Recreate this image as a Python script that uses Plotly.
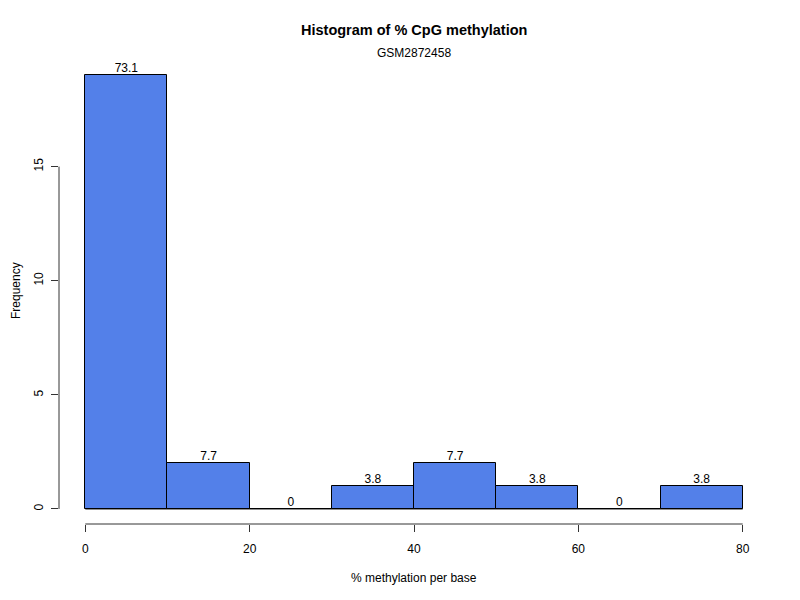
import plotly.graph_objects as go

# histogram bins (% methylation per base) and counts
bin_edges = [0, 10, 20, 30, 40, 50, 60, 70, 80]
counts = [19, 2, 0, 1, 2, 1, 0, 1]
y_ticks = [0, 5, 10, 15]
x_ticks = [0, 20, 40, 60, 80]

total = sum(counts)
centers = [(a + b) / 2 for a, b in zip(bin_edges[:-1], bin_edges[1:])]
pct_labels = [f"{round(100 * c / total, 1):g}" for c in counts]

FONT = "Liberation Sans, Arial, Helvetica, sans-serif"
BAR_COLOR = "#5380E9"

fig = go.Figure()
fig.add_trace(go.Bar(
    x=centers,
    y=counts,
    width=10,
    marker=dict(color=BAR_COLOR, line=dict(color="black", width=1)),
    hoverinfo="x+y",
))
# zero-height bins still show their border along the baseline
fig.add_trace(go.Scatter(
    x=[bin_edges[0], bin_edges[-1]],
    y=[0, 0],
    mode="lines",
    line=dict(color="black", width=1),
    hoverinfo="skip",
))
fig.add_trace(go.Scatter(
    x=centers,
    y=counts,
    mode="text",
    text=pct_labels,
    textposition="top center",
    textfont=dict(family=FONT, size=12, color="black"),
    hoverinfo="skip",
))

# axis lines only span the tick range, like base R
fig.add_shape(type="line", xref="paper", yref="y", x0=0, x1=0,
              y0=y_ticks[0], y1=y_ticks[-1], line=dict(color="#333", width=1))
fig.add_shape(type="line", xref="x", yref="paper", x0=x_ticks[0], x1=x_ticks[-1],
              y0=0, y1=0, line=dict(color="#333", width=1))

# page body adds an 8px offset, so margins are trimmed on left/top
fig.update_layout(
    width=800, height=600,
    paper_bgcolor="white", plot_bgcolor="white",
    showlegend=False,
    bargap=0,
    margin=dict(l=51, r=39, t=50, b=84),
    font=dict(family=FONT, size=12, color="black"),
    annotations=[
        dict(text="<b>Histogram of % CpG methylation</b>", xref="paper", yref="paper",
             x=0.5, y=1, yshift=38, showarrow=False, font=dict(size=14.5)),
        dict(text="GSM2872458", xref="paper", yref="paper",
             x=0.5, y=1, yshift=14, showarrow=False, font=dict(size=12)),
        dict(text="% methylation per base", xref="paper", yref="paper",
             x=0.5, y=0, yshift=-63, showarrow=False, font=dict(size=12)),
        dict(text="Frequency", xref="paper", yref="paper", textangle=-90,
             x=0, xshift=-52, y=0.5, showarrow=False, font=dict(size=12)),
    ],
)
fig.update_xaxes(
    range=[-3.2, 83.2], tickvals=x_ticks, ticks="outside", ticklen=7,
    tickcolor="#333", showgrid=False, zeroline=False, showline=False,
    tickfont=dict(size=12), ticklabelstandoff=7,
)
fig.update_yaxes(
    range=[-0.66, 19.76], tickvals=y_ticks, ticks="outside", ticklen=7,
    tickcolor="#333", showgrid=False, zeroline=False, showline=False,
    tickangle=-90, tickfont=dict(size=12), ticklabelstandoff=3,
)

fig.write_html("out.html")
